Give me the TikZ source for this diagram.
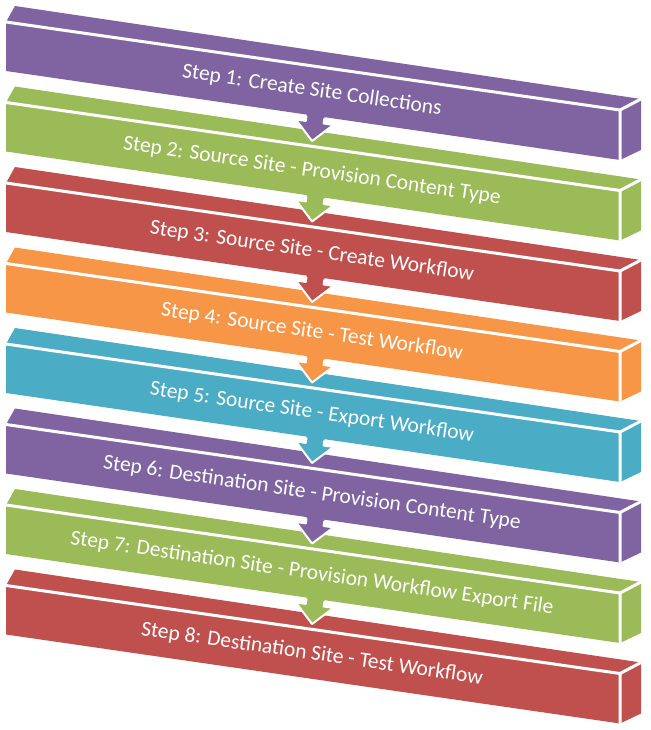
\documentclass[tikz,border=0pt]{standalone}
\usepackage{fontspec}
\setmainfont{Carlito}
\usepackage{tikz}
\usetikzlibrary{calc}
\definecolor{barpurple}{HTML}{8064A2}
\definecolor{bargreen}{HTML}{9BBB59}
\definecolor{barred}{HTML}{C0504D}
\definecolor{barorange}{HTML}{F79646}
\definecolor{baraqua}{HTML}{4BACC6}
\tikzset{
	edge/.style={draw=white, line width=3, line join=round},
	steptext/.style={text=white, rotate=-8.2, font=\fontsize{21.5}{24}\selectfont, inner sep=0}
}
% one slanted bar: colour, y of the front top left corner, node name, label
\def\stepbar[#1](#2)#3#4{
	\fill[#1] (6, #2) -- (620, #2+88) -- (620, #2+138) -- (6, #2+49) -- cycle;
	\fill[#1] (6, #2) -- (15, #2-16) -- (641, #2+77) -- (620, #2+88) -- cycle;
	\fill[#1] (620, #2+88) -- (641, #2+77) -- (641, #2+128) -- (620, #2+138) -- cycle;
	\draw[edge] (6, #2) -- (620, #2+88) -- (620, #2+138);
	\draw[edge] (620, #2+88) -- (641, #2+77);
	\node[steptext] (#3) at (312, #2+68.5) {#4};
}
% down arrow from a bar to the next one: colour, y of the upper bar
\def\steparrow[#1](#2){
	\begin{scope}[shift={(312, #2+119)}, rotate=-8.2]
		\fill[#1] (0, 0) -- (-19, -19) -- (-9, -19) -- (-9, -32) -- (9, -32) -- (9, -19) -- (19, -19) -- cycle;
		\draw[edge, line width=2] (-9, -24) -- (-9, -19) -- (-19, -19) -- (0, 0) -- (19, -19) -- (9, -19) -- (9, -24);
	\end{scope}
}

\begin{document}
\begin{tikzpicture}[x=1pt, y=-1pt]
			%%%%% START %%%%%
			
			\useasboundingbox[fill=white] (0, 0) rectangle (650, 730);
			
			\stepbar[barpurple](22){s1}{Step 1: Create Site Collections}
			\stepbar[bargreen](102.5){s2}{Step 2: Source Site - Provision Content Type}
			\stepbar[barred](183){s3}{Step 3: Source Site - Create Workflow}
			\stepbar[barorange](263.5){s4}{Step 4: Source Site - Test Workflow}
			\stepbar[baraqua](344){s5}{Step 5: Source Site - Export Workflow}
			\stepbar[barpurple](424.5){s6}{Step 6: Destination Site - Provision Content Type}
			\stepbar[bargreen](505){s7}{Step 7: Destination Site - Provision Workflow Export File}
			\stepbar[barred](585.5){s8}{Step 8: Destination Site - Test Workflow}
			
			\steparrow[barpurple](22)
			\steparrow[bargreen](102.5)
			\steparrow[barred](183)
			\steparrow[barorange](263.5)
			\steparrow[baraqua](344)
			\steparrow[barpurple](424.5)
			\steparrow[bargreen](505)
			
			%%%%% END %%%%%
\end{tikzpicture}
\end{document}
